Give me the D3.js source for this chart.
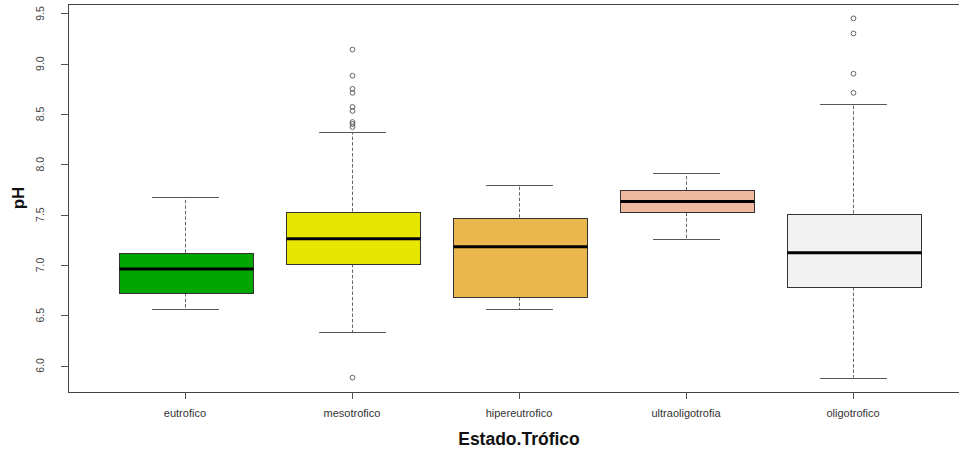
<!DOCTYPE html>
<html>
<head>
<meta charset="utf-8">
<script src="https://cdn.jsdelivr.net/npm/d3@7"></script>
<style>
  html, body { margin: 0; padding: 0; background: #fff; }
  svg { display: block; font-family: "Liberation Sans", Arial, sans-serif; }
</style>
</head>
<body>
<svg id="chart" width="959" height="450"></svg>
<script>
// Trophic state categories and their fill colours
const categories = ["eutrofico", "mesotrofico", "hipereutrofico", "ultraoligotrofia", "oligotrofico"];
const fills = ["#00A600", "#E6E600", "#EAB64E", "#EEB99F", "#F2F2F2"];

// Five-number summaries of pH for each state
const lowerWhisker = [6.56, 6.33, 6.56, 7.26, 5.88];
const q1          = [6.72, 7.01, 6.68, 7.52, 6.78];
const median      = [6.96, 7.26, 7.18, 7.63, 7.12];
const q3          = [7.12, 7.53, 7.47, 7.74, 7.51];
const upperWhisker = [7.67, 8.32, 7.79, 7.91, 8.60];

// Points beyond the whiskers
const outliers = [
  [],
  [9.14, 8.88, 8.75, 8.71, 8.57, 8.53, 8.42, 8.40, 8.37, 5.88],
  [],
  [],
  [9.45, 9.30, 8.90, 8.71]
];

const yTicks = [6.0, 6.5, 7.0, 7.5, 8.0, 8.5, 9.0, 9.5];

const svg = d3.select("#chart");
const plot = { left: 68, top: 4, bottom: 392, right: 970 };

// y range covers all values plus 4% padding on each side
const allVals = lowerWhisker.concat(upperWhisker, outliers.flat());
const lo = d3.min(allVals), hi = d3.max(allVals);
const pad = (hi - lo) * 0.04;
const y = d3.scaleLinear().domain([lo - pad, hi + pad]).range([plot.bottom, plot.top]);

// x positions 1..n inside [0.5, n+0.5], padded by 4%
const n = categories.length;
const xpad = n * 0.04;
const x = d3.scaleLinear().domain([0.5 - xpad, n + 0.5 + xpad]).range([plot.left, plot.right]);
const unit = x(1) - x(0);
const boxW = 0.8 * unit;
const capW = 0.4 * unit;

const snap = v => Math.round(v) + 0.5;

const g = svg.append("g");

categories.forEach((c, i) => {
  const cx = snap(x(i + 1));
  const grp = g.append("g");

  // dashed whiskers
  grp.append("line")
    .attr("x1", cx).attr("x2", cx)
    .attr("y1", y(q3[i])).attr("y2", y(upperWhisker[i]))
    .attr("stroke", "#666").attr("stroke-width", 1).attr("stroke-dasharray", "3.5,2");
  grp.append("line")
    .attr("x1", cx).attr("x2", cx)
    .attr("y1", y(q1[i])).attr("y2", y(lowerWhisker[i]))
    .attr("stroke", "#666").attr("stroke-width", 1).attr("stroke-dasharray", "3.5,2");

  // staples
  [upperWhisker[i], lowerWhisker[i]].forEach(v => {
    grp.append("line")
      .attr("x1", cx - capW / 2).attr("x2", cx + capW / 2)
      .attr("y1", snap(y(v))).attr("y2", snap(y(v)))
      .attr("stroke", "#555").attr("stroke-width", 1);
  });

  // box
  grp.append("rect")
    .attr("x", snap(cx - boxW / 2))
    .attr("y", snap(y(q3[i])))
    .attr("width", Math.round(boxW))
    .attr("height", Math.round(y(q1[i]) - y(q3[i])))
    .attr("fill", fills[i])
    .attr("stroke", "#333").attr("stroke-width", 1);

  // median
  grp.append("line")
    .attr("x1", snap(cx - boxW / 2)).attr("x2", snap(cx - boxW / 2) + Math.round(boxW))
    .attr("y1", y(median[i])).attr("y2", y(median[i]))
    .attr("stroke", "#000").attr("stroke-width", 3);

  // outliers
  grp.selectAll("circle")
    .data(outliers[i])
    .join("circle")
    .attr("cx", cx)
    .attr("cy", d => y(d))
    .attr("r", 2.4)
    .attr("fill", "none")
    .attr("stroke", "#555")
    .attr("stroke-width", 0.9);
});

// plot frame
svg.append("rect")
  .attr("x", plot.left + 0.5).attr("y", plot.top + 0.5)
  .attr("width", plot.right - plot.left).attr("height", plot.bottom - plot.top)
  .attr("fill", "none").attr("stroke", "#444").attr("stroke-width", 1);

// y axis ticks and rotated labels
const yAxis = svg.append("g");
yTicks.forEach(t => {
  const yy = snap(y(t));
  yAxis.append("line")
    .attr("x1", plot.left - 7).attr("x2", plot.left)
    .attr("y1", yy).attr("y2", yy)
    .attr("stroke", "#555");
  yAxis.append("text")
    .attr("transform", `translate(44,${y(t)}) rotate(-90)`)
    .attr("text-anchor", "middle")
    .attr("font-size", 10.5)
    .attr("fill", "#444")
    .text(t.toFixed(1));
});

// x axis ticks and labels
const xAxis = svg.append("g");
categories.forEach((c, i) => {
  const xx = snap(x(i + 1));
  xAxis.append("line")
    .attr("x1", xx).attr("x2", xx)
    .attr("y1", plot.bottom).attr("y2", plot.bottom + 7)
    .attr("stroke", "#555");
  xAxis.append("text")
    .attr("x", x(i + 1)).attr("y", 417)
    .attr("text-anchor", "middle")
    .attr("font-size", 11)
    .attr("fill", "#333")
    .text(c);
});

// axis titles
svg.append("text")
  .attr("x", x(3)).attr("y", 445)
  .attr("text-anchor", "middle")
  .attr("font-size", 17.5).attr("font-weight", "bold")
  .attr("fill", "#111")
  .text("Estado.Trófico");

svg.append("text")
  .attr("transform", `translate(23.5,${(plot.top + plot.bottom) / 2}) rotate(-90)`)
  .attr("text-anchor", "middle")
  .attr("font-size", 17).attr("font-weight", "bold")
  .attr("fill", "#111")
  .text("pH");
</script>
</body>
</html>
